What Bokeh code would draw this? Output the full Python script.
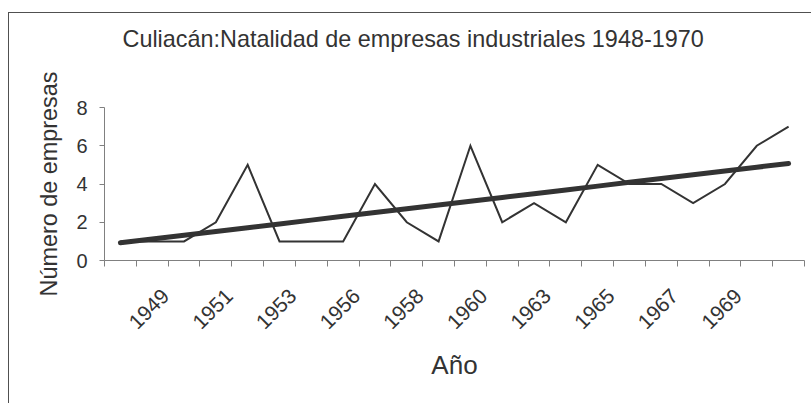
import math
import numpy as np
from bokeh.plotting import figure
from bokeh.models import FixedTicker, Range1d, Title, LinearAxis
from bokeh.embed import file_html
from bokeh.resources import INLINE

# ---- data ----
years = ["", "1948", "1949", "1950", "1951", "1952", "1953", "1955",
         "1956", "1957", "1958", "1959", "1960", "1962", "1963", "1964",
         "1965", "1966", "1967", "1968", "1969", "1970"]
empresas = [1, 1, 1, 2, 5, 1, 1, 1, 4, 2, 1, 6, 2, 3, 2, 5, 4, 4, 3, 4, 6, 7]
y_ticks = [0, 2, 4, 6, 8]
title_text = "Culiacán:Natalidad de empresas industriales 1948-1970"
x_title = "Año"
y_title = "Número de empresas"

n = len(years)
xpos = np.arange(1, n + 1)
slope, intercept = np.polyfit(xpos, empresas, 1)
trend = slope * xpos + intercept

FONT = "Liberation Sans"
TXT = "#333333"
AX = "#808080"
LINE = "#333333"

p = figure(width=803, height=391, output_backend="svg", toolbar_location=None,
           x_range=Range1d(0.5, n + 0.5), y_range=Range1d(0, 8),
           min_border_left=95, min_border_right=8, min_border_top=94,
           min_border_bottom=144)
p.styles = {"border-top": "1px solid #505050", "border-left": "1px solid #505050",
            "margin-top": "12px", "margin-left": "8px"}
p.background_fill_color = "white"
p.border_fill_color = "white"
p.outline_line_color = None
p.xgrid.grid_line_color = None
p.ygrid.grid_line_color = None

xa = p.below[0]
ya = p.left[0]

# empty band between the frame and the title (an invisible axis with one white tick)
spacer_tick = 1.0
spacer = LinearAxis(ticker=FixedTicker(ticks=[spacer_tick]), axis_line_color=None,
                    major_tick_line_color="white", minor_tick_line_color=None,
                    major_tick_in=0, major_tick_out=51, minor_tick_out=0,
                    major_label_standoff=0, major_label_text_font_size="1px",
                    major_label_overrides={spacer_tick: ""})
p.add_layout(spacer, "above")
p.add_layout(Title(text=title_text, align="left", offset=18, text_font=FONT,
                   text_font_size="23.4px", text_font_style="normal",
                   text_color=TXT), "above")

p.line(xpos, empresas, line_width=2, line_color=LINE, line_join="miter")
p.line(xpos, trend, line_width=5, line_color=LINE, line_cap="round")

# y axis
ya.ticker = FixedTicker(ticks=y_ticks)
ya.axis_line_color = AX
ya.major_tick_line_color = AX
ya.major_tick_in = 0
ya.major_tick_out = 5
ya.minor_tick_line_color = None
ya.major_label_text_font = FONT
ya.major_label_text_font_size = "20px"
ya.major_label_text_color = TXT
ya.major_label_standoff = 12
ya.axis_label = y_title
ya.axis_label_text_font = FONT
ya.axis_label_text_font_size = "23.4px"
ya.axis_label_text_font_style = "normal"
ya.axis_label_text_color = TXT
ya.axis_label_standoff = 11

# x axis: labels on every other category, tick marks between categories
shift = -0.58
label_idx = [i for i in range(0, n, 2) if years[i]]
label_pos = [float(i + 1) + shift for i in label_idx]
boundaries = [i + 0.5 for i in range(n + 1)]
xa.ticker = FixedTicker(ticks=label_pos, minor_ticks=boundaries)
xa.major_label_overrides = {pos: years[i] for pos, i in zip(label_pos, label_idx)}
xa.axis_line_color = AX
xa.major_tick_line_color = None
xa.major_tick_in = 0
xa.major_tick_out = 0
xa.minor_tick_line_color = AX
xa.minor_tick_in = 0
xa.minor_tick_out = 6
xa.major_label_orientation = math.pi / 4
xa.major_label_text_font = FONT
xa.major_label_text_font_size = "21px"
xa.major_label_text_color = TXT
xa.major_label_standoff = 26
xa.axis_label = x_title
xa.axis_label_text_font = FONT
xa.axis_label_text_font_size = "26px"
xa.axis_label_text_font_style = "normal"
xa.axis_label_text_color = TXT
xa.axis_label_standoff = 12

open("out.html", "w").write(file_html(p, INLINE))
